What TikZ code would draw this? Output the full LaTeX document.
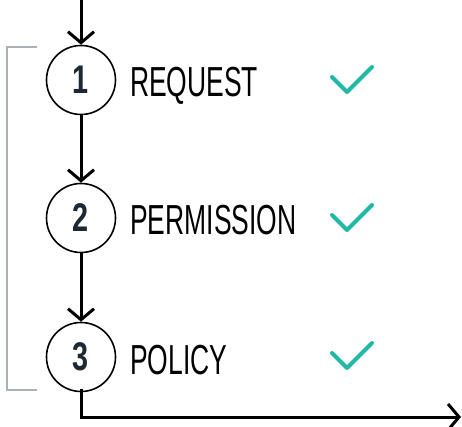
\documentclass[tikz,border=0pt]{standalone}
\usepackage{fontspec}
\usetikzlibrary{arrows.meta}
\newfontfamily\labfont[FakeStretch=0.63]{Liberation Sans}
\newfontfamily\numfont[FakeStretch=0.72]{Liberation Sans}
\definecolor{teal1}{HTML}{22B8A6}
\definecolor{brk}{HTML}{A9B0B8}
\definecolor{numc}{HTML}{1C2833}
\tikzset{
  flow/.style={line width=3pt, -{Straight Barb[length=11pt,width=26pt]}},
  circ/.style={circle, draw, line width=1.6pt, minimum size=69pt, inner sep=0pt,
    font=\numfont\bfseries\fontsize{40}{40}\selectfont, text=numc},
  lab/.style={anchor=base west, inner sep=0pt, font=\labfont\fontsize{42}{42}\selectfont},
  chk/.style={draw=teal1, line width=4pt, line cap=round, line join=round},
  brack/.style={draw=brk, line width=1.5pt}
}
\begin{document}
\begin{tikzpicture}[x=1pt,y=-1pt]
\useasboundingbox (0,0) rectangle (462,427);
\coordinate (top) at (81,0);
\node[circ] (c1) at (81,80) {1};
\node[circ] (c2) at (81,218) {2};
\node[circ] (c3) at (81,357) {3};
\node[lab] (l1) at (130,97) {REQUEST};
\node[lab] (l2) at (130,235) {PERMISSION};
\node[lab] (l3) at (130,374) {POLICY};
\coordinate (end) at (461,417);
\draw[flow] (top) -- (c1.north);
\draw[flow] (c1.south) -- (c2.north);
\draw[flow] (c2.south) -- (c3.north);
\draw[flow] ([yshift=3pt]c3.south) |- (end);
\draw[brack] (37,47) -- (7,47) -- (7,390) -- (37,390);
\foreach \y in {77,215,353} {
  \draw[chk] (332,\y) -- (347,\y+15) -- (372,\y-10);
}
\end{tikzpicture}
\end{document}
